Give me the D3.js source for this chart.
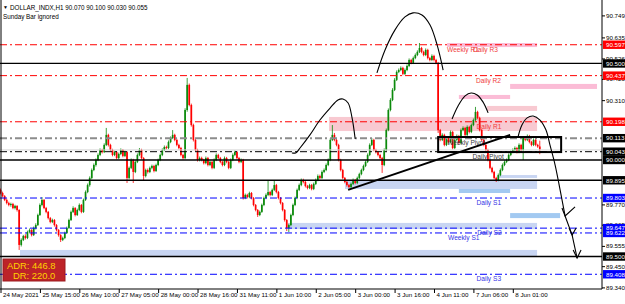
<!DOCTYPE html>
<html lang="en">
<head>
<meta charset="UTF-8">
<title>DOLLAR_INDX,H1</title>
<style>
  body { margin: 0; background: #fff; }
  svg { display: block; font-family: "Liberation Sans", Arial, sans-serif; }
</style>
</head>
<body>
<script src="https://d3js.org/d3.v7.min.js"></script>
<script>
// H1 candles (one per hour)
var opens = [89.845,89.829,89.813,89.793,89.777,89.767,89.772,89.751,89.762,89.741,
89.560,89.586,89.606,89.596,89.627,89.637,89.611,89.648,89.663,89.715,
89.767,89.793,89.751,89.731,89.699,89.679,89.689,89.663,89.637,89.611,
89.586,89.596,89.622,89.648,89.689,89.731,89.751,89.715,89.741,89.767,
89.731,89.793,89.834,89.870,89.907,89.948,89.974,90.000,90.026,90.052,
90.041,90.078,90.130,90.078,90.052,90.026,90.041,90.010,90.031,90.052,
90.021,90.041,89.907,89.959,90.000,89.938,89.990,90.026,90.052,90.010,
89.917,89.948,89.938,89.959,89.969,89.943,89.974,90.000,90.026,90.052,
90.067,90.062,90.093,90.114,90.130,90.104,90.078,90.062,90.026,90.010,
90.259,90.389,90.285,90.181,90.104,90.052,90.000,90.010,90.000,89.984,
90.010,89.974,89.990,89.959,90.000,90.026,90.010,89.990,89.974,90.010,
89.990,89.959,90.000,90.026,90.041,90.010,89.990,90.000,89.803,89.819,
89.808,89.829,89.803,89.767,89.741,89.715,89.731,89.767,89.803,89.819,
89.834,89.819,89.845,89.870,89.834,89.803,89.777,89.741,89.689,89.648,
89.663,89.715,89.767,89.803,89.845,89.870,89.896,89.886,89.865,89.855,
89.870,89.850,89.876,89.896,89.917,89.907,89.938,89.948,89.974,90.000,
90.104,90.130,90.104,90.078,90.000,89.948,89.907,89.886,89.870,89.860,
89.876,89.896,89.881,89.907,89.927,89.948,89.969,89.990,90.026,90.078,
90.104,90.052,90.041,90.026,90.010,89.974,90.052,90.155,90.259,90.311,
90.363,90.415,90.456,90.466,90.477,90.446,90.466,90.487,90.518,90.503,
90.528,90.544,90.560,90.580,90.560,90.544,90.570,90.528,90.518,90.539,
90.518,90.503,90.155,90.104,90.130,90.078,90.114,90.093,90.145,90.062,
90.104,90.124,90.088,90.155,90.166,90.130,90.171,90.145,90.181,90.207,
90.249,90.218,90.155,90.104,90.078,90.052,90.000,89.959,89.938,89.907,
89.896,89.922,89.948,89.974,89.990,90.000,90.026,90.041,90.052,90.062,
90.041,90.078,90.052,90.114,90.104,90.124,90.093,90.078,90.104,90.078,
90.070];
var highs = [89.852,89.836,89.818,89.800,89.784,89.779,89.778,89.768,89.766,89.745,
89.594,89.612,89.615,89.634,89.645,89.642,89.655,89.672,89.722,89.775,
89.808,89.798,89.757,89.736,89.705,89.696,89.694,89.668,89.642,89.616,
89.603,89.629,89.655,89.696,89.738,89.760,89.756,89.748,89.775,89.772,
89.800,89.842,89.878,89.915,89.956,89.982,90.008,90.034,90.060,90.058,
90.086,90.166,90.136,90.084,90.058,90.048,90.046,90.038,90.060,90.057,
90.049,90.046,89.966,90.008,90.006,89.998,90.034,90.062,90.058,90.015,
89.955,89.956,89.966,89.976,89.975,89.981,90.007,90.033,90.060,90.075,
90.074,90.101,90.122,90.155,90.136,90.110,90.084,90.068,90.032,90.268,
90.425,90.396,90.292,90.188,90.110,90.058,90.018,90.017,90.006,90.018,
90.016,89.998,89.996,90.008,90.034,90.032,90.016,89.996,90.018,90.016,
89.996,90.008,90.034,90.049,90.047,90.016,90.008,90.006,89.826,89.825,
89.836,89.834,89.808,89.772,89.746,89.738,89.774,89.810,89.827,89.896,
89.840,89.852,89.896,89.876,89.840,89.808,89.782,89.746,89.694,89.670,
89.722,89.774,89.810,89.852,89.878,89.904,89.903,89.892,89.871,89.877,
89.876,89.883,89.904,89.925,89.924,89.946,89.956,89.982,90.008,90.112,
90.181,90.140,90.110,90.084,90.006,89.954,89.912,89.892,89.876,89.883,
89.904,89.902,89.914,89.934,89.955,89.976,89.998,90.034,90.086,90.114,
90.110,90.058,90.047,90.032,90.016,90.060,90.163,90.267,90.320,90.372,
90.424,90.464,90.474,90.485,90.483,90.474,90.495,90.526,90.524,90.536,
90.552,90.568,90.606,90.586,90.566,90.578,90.576,90.534,90.547,90.545,
90.524,90.508,90.161,90.138,90.136,90.122,90.120,90.153,90.151,90.112,
90.132,90.130,90.163,90.174,90.172,90.179,90.177,90.189,90.215,90.275,
90.255,90.224,90.161,90.110,90.084,90.058,90.006,89.965,89.944,89.913,
89.930,89.956,89.982,89.998,90.008,90.034,90.049,90.060,90.070,90.068,
90.086,90.084,90.122,90.121,90.132,90.130,90.099,90.112,90.110,90.084,
90.100];
var lows = [89.822,89.806,89.787,89.770,89.760,89.758,89.745,89.744,89.733,89.534,
89.552,89.580,89.588,89.590,89.620,89.604,89.606,89.640,89.658,89.710,
89.760,89.745,89.724,89.692,89.672,89.673,89.655,89.630,89.603,89.575,
89.580,89.590,89.617,89.643,89.684,89.725,89.708,89.710,89.735,89.724,
89.726,89.788,89.828,89.862,89.900,89.942,89.966,89.994,90.020,90.034,
90.036,90.072,90.070,90.045,90.019,90.020,90.003,90.004,90.025,90.014,
90.015,89.881,89.900,89.953,89.881,89.932,89.984,90.020,90.003,89.896,
89.910,89.930,89.932,89.952,89.936,89.938,89.968,89.994,90.020,90.046,
90.055,90.056,90.087,90.108,90.097,90.071,90.055,90.019,90.002,90.004,
90.250,90.278,90.173,90.096,90.044,89.992,89.993,89.993,89.977,89.978,
89.967,89.968,89.952,89.953,89.994,90.003,89.983,89.967,89.968,89.983,
89.952,89.953,89.994,90.020,90.003,89.983,89.984,89.795,89.797,89.801,
89.802,89.796,89.760,89.734,89.705,89.709,89.726,89.761,89.797,89.813,
89.812,89.813,89.839,89.827,89.796,89.770,89.734,89.681,89.632,89.627,
89.657,89.709,89.761,89.797,89.839,89.864,89.879,89.858,89.848,89.849,
89.843,89.844,89.870,89.890,89.900,89.901,89.932,89.942,89.968,89.994,
90.098,90.097,90.071,89.993,89.941,89.900,89.879,89.862,89.853,89.854,
89.870,89.874,89.875,89.901,89.921,89.942,89.963,89.984,90.020,90.072,
90.045,90.034,90.019,90.002,89.933,89.968,90.046,90.149,90.252,90.305,
90.357,90.409,90.450,90.460,90.439,90.440,90.460,90.481,90.496,90.497,
90.522,90.538,90.554,90.553,90.537,90.538,90.521,90.511,90.512,90.511,
90.496,90.140,90.097,90.098,90.071,90.072,90.086,90.087,90.055,90.056,
90.098,90.081,90.082,90.149,90.123,90.124,90.138,90.139,90.175,90.201,
90.211,90.148,90.097,90.071,90.045,89.993,89.952,89.931,89.900,89.886,
89.890,89.916,89.942,89.968,89.984,89.994,90.020,90.035,90.046,90.034,
90.035,90.045,90.000,90.097,90.098,90.086,90.071,90.072,90.071,90.063,
90.030];
var closes = [89.829,89.813,89.793,89.777,89.767,89.772,89.751,89.762,89.741,89.560,
89.586,89.606,89.596,89.627,89.637,89.611,89.648,89.663,89.715,89.767,
89.793,89.751,89.731,89.699,89.679,89.689,89.663,89.637,89.611,89.586,
89.596,89.622,89.648,89.689,89.731,89.751,89.715,89.741,89.767,89.731,
89.793,89.834,89.870,89.907,89.948,89.974,90.000,90.026,90.052,90.041,
90.078,90.130,90.078,90.052,90.026,90.041,90.010,90.031,90.052,90.021,
90.041,89.907,89.959,90.000,89.938,89.990,90.026,90.052,90.010,89.917,
89.948,89.938,89.959,89.969,89.943,89.974,90.000,90.026,90.052,90.067,
90.062,90.093,90.114,90.130,90.104,90.078,90.062,90.026,90.010,90.259,
90.389,90.285,90.181,90.104,90.052,90.000,90.010,90.000,89.984,90.010,
89.974,89.990,89.959,90.000,90.026,90.010,89.990,89.974,90.010,89.990,
89.959,90.000,90.026,90.041,90.010,89.990,90.000,89.803,89.819,89.808,
89.829,89.803,89.767,89.741,89.715,89.731,89.767,89.803,89.819,89.834,
89.819,89.845,89.870,89.834,89.803,89.777,89.741,89.689,89.648,89.663,
89.715,89.767,89.803,89.845,89.870,89.896,89.886,89.865,89.855,89.870,
89.850,89.876,89.896,89.917,89.907,89.938,89.948,89.974,90.000,90.104,
90.130,90.104,90.078,90.000,89.948,89.907,89.886,89.870,89.860,89.876,
89.896,89.881,89.907,89.927,89.948,89.969,89.990,90.026,90.078,90.104,
90.052,90.041,90.026,90.010,89.974,90.052,90.155,90.259,90.311,90.363,
90.415,90.456,90.466,90.477,90.446,90.466,90.487,90.518,90.503,90.528,
90.544,90.560,90.580,90.560,90.544,90.570,90.528,90.518,90.539,90.518,
90.503,90.155,90.104,90.130,90.078,90.114,90.093,90.145,90.062,90.104,
90.124,90.088,90.155,90.166,90.130,90.171,90.145,90.181,90.207,90.249,
90.218,90.155,90.104,90.078,90.052,90.000,89.959,89.938,89.907,89.896,
89.922,89.948,89.974,89.990,90.000,90.026,90.041,90.052,90.062,90.041,
90.078,90.052,90.114,90.104,90.124,90.093,90.078,90.104,90.078,90.070,
90.055];

// time axis: one label every 19 bars
var timeTicks = [0, 19, 38, 57, 76, 95, 114, 133, 152, 171, 190, 209, 228, 247];
var timeLabels = ["24 May 2021", "25 May 15:00", "26 May 10:00", "27 May 05:00", "28 May 00:00",
  "28 May 16:00", "31 May 11:00", "1 Jun 10:00", "2 Jun 05:00", "3 Jun 00:00", "3 Jun 16:00",
  "4 Jun 11:00", "7 Jun 06:00", "8 Jun 01:00"];
var priceTicks = [90.749, 90.635, 90.526, 90.420, 90.310, 89.770, 89.665, 89.555, 89.450, 89.340];

// horizontal levels
var levelPrices = [90.597, 90.500, 90.437, 90.198, 90.113, 90.052, 90.043, 90.000, 89.895, 89.803, 89.647, 89.622, 89.500, 89.408];
var levelKinds = ["r", "k", "r", "r", "gp", "lg", "dp", "k", "k", "b", "b", "b", "k", "b"];
var tagPrices = [90.597, 90.500, 90.437, 90.198, 90.113, 90.043, 90.000, 89.895, 89.803, 89.647, 89.622, 89.500, 89.408];
var tagKinds = ["r", "k", "r", "r", "k", "k", "k", "k", "b", "b", "b", "k", "b"];

// pivot names
var pivotNames = ["Weekly R1", "Daily R3", "Daily R2", "Daily R1", "Weekly Pivot", "Daily Pivot", "Daily S1", "Daily S2", "Weekly S1", "Daily S3"];
var pivotPrices = [90.597, 90.597, 90.437, 90.198, 90.113, 90.043, 89.803, 89.647, 89.622, 89.408];
var pivotBars = [215.3, 227.8, 229.3, 229.5, 215.3, 227.6, 229.5, 229.8, 215.8, 229.5];
var pivotKinds = ["r", "r", "r", "r", "p", "p", "b", "b", "b", "b"];

// zones [barFrom, barTo, priceTop, priceBottom]
var zoneBars = [[215.3, 258.7], [221, 245.7], [245.7, 287.6], [234.6, 258.7], [158.4, 258.7],
  [240, 258.7], [166.1, 258.7], [221, 245.7], [245.7, 269.8], [138.6, 258.7], [9.4, 258.7]];
var zonePrices = [[90.606, 90.585], [90.337, 90.316], [90.394, 90.368], [90.280, 90.254], [90.223, 90.150],
  [89.922, 89.907], [89.896, 89.850], [89.850, 89.829], [89.725, 89.699], [89.674, 89.642], [89.534, 89.503]];
var zoneKinds = ["pk", "pk", "pk", "lp", "lp", "lb", "lb", "mb", "mb", "lb", "lb"];

// hand drawn marks [bar, price]
var arcTop = [[181.5, 90.451], [185.4, 90.570], [190.2, 90.674], [195, 90.741], [198.9, 90.762], [203.2, 90.751], [207.1, 90.699], [210.5, 90.596], [213.4, 90.466]];
var arcMid = [[140.5, 90.036], [142.5, 90.038], [144.4, 90.062], [149.2, 90.130], [154, 90.207], [158.9, 90.269], [162.7, 90.311], [165.1, 90.316], [167.6, 90.295], [169.5, 90.218], [171, 90.109]];
var arcSmall = [[217.7, 90.212], [220.6, 90.280], [224, 90.332], [226.9, 90.347], [229.8, 90.337], [232.6, 90.301], [235.1, 90.244]];
var arcRight = [[249.5, 90.119], [251.4, 90.181], [253.9, 90.218], [256.8, 90.228], [260.1, 90.207], [263, 90.155], [264.9, 90.078], [267.4, 89.974], [269.8, 89.845], [272.2, 89.710]];
var arrowPath = [[272.2, 89.710], [275.6, 89.611], [278, 89.492]];
var arrowHeads = [
  [[270.7, 89.751], [272.2, 89.710], [277, 89.757]],
  [[274.1, 89.648], [275.6, 89.611], [277.5, 89.648]],
  [[276.1, 89.534], [278, 89.492], [279.9, 89.534]]];
var trendLine = [[167.6, 89.845], [245.7, 90.130]];
var pivotBox = [[211, 90.119], [270.3, 90.041]];

var adrNames = ["ADR: ", "DR: "];
var adrValues = [446.8, 220.0];

var W = 625, H = 304, plotR = 602, plotB = 289;
var svg = d3.select('body').append('svg').attr('width', W).attr('height', H);

var x = d3.scaleLinear().domain([0, 290]).range([0.5, plotR]);
var y = d3.scaleLinear().domain([89.340, 90.749]).range([287.4, 15.4]);

var zoneColor = { pk: "#fbbcd6", lp: "#f8c9d1", lb: "#c8d5f2", mb: "#a2c9f1" };
var lineStyle = {
  r: { c: "#ff0000", w: 1, d: "7,3,2,3" },
  b: { c: "#0000ff", w: 1, d: "7,3,2,3" },
  k: { c: "#000000", w: 1.3, d: null },
  gp: { c: "#8c8c8c", w: 2, d: "7,3,2,3" },
  dp: { c: "#000000", w: 1, d: "7,3,2,3" },
  lg: { c: "#d4d4d4", w: 1, d: null }
};
var tagColor = { r: "#ff0000", k: "#000000", b: "#0000ff" };
var textColor = { r: "#f03c3c", p: "#3a3a3a", b: "#3434e6" };
var up = "#0b8a0b", dn = "#ff0000";

// zones
svg.append('g').selectAll('rect').data(zoneKinds).join('rect')
  .attr('x', function (d, i) { return x(zoneBars[i][0]); })
  .attr('width', function (d, i) { return x(zoneBars[i][1]) - x(zoneBars[i][0]); })
  .attr('y', function (d, i) { return y(zonePrices[i][0]); })
  .attr('height', function (d, i) { return y(zonePrices[i][1]) - y(zonePrices[i][0]); })
  .attr('fill', function (d) { return zoneColor[d]; });

// candles
var idx = d3.range(closes.length);
var gC = svg.append('g');
function col(i) { return closes[i] >= opens[i] ? up : dn; }
gC.selectAll('line').data(idx).join('line')
  .attr('x1', function (i) { return x(i); }).attr('x2', function (i) { return x(i); })
  .attr('y1', function (i) { return y(highs[i]); }).attr('y2', function (i) { return y(lows[i]); })
  .attr('stroke', col).attr('stroke-width', 0.8);
gC.selectAll('rect').data(idx).join('rect')
  .attr('x', function (i) { return x(i) - 0.85; }).attr('width', 1.7)
  .attr('y', function (i) { return y(Math.max(opens[i], closes[i])); })
  .attr('height', function (i) { return Math.max(0.8, Math.abs(y(opens[i]) - y(closes[i]))); })
  .attr('fill', col);

// levels
svg.append('g').selectAll('line').data(levelPrices).join('line')
  .attr('x1', 0).attr('x2', plotR)
  .attr('y1', function (d) { return y(d); }).attr('y2', function (d) { return y(d); })
  .attr('stroke', function (d, i) { return lineStyle[levelKinds[i]].c; })
  .attr('stroke-width', function (d, i) { return lineStyle[levelKinds[i]].w; })
  .attr('stroke-dasharray', function (d, i) { return lineStyle[levelKinds[i]].d; });

// pivot names
svg.append('g').selectAll('text').data(pivotNames).join('text')
  .attr('x', function (d, i) { return x(pivotBars[i]); })
  .attr('y', function (d, i) { return y(pivotPrices[i]) + 7.2; })
  .attr('font-size', 6.6)
  .attr('fill', function (d, i) { return textColor[pivotKinds[i]]; })
  .text(function (d) { return d; });

// hand drawn marks
var line = d3.line().x(function (d) { return x(d[0]); }).y(function (d) { return y(d[1]); });
var curve = d3.line().x(function (d) { return x(d[0]); }).y(function (d) { return y(d[1]); }).curve(d3.curveCatmullRom);
var gM = svg.append('g').attr('fill', 'none').attr('stroke', '#000');
[arcTop, arcMid, arcSmall, arcRight].forEach(function (a) {
  gM.append('path').attr('d', curve(a)).attr('stroke-width', 1.1);
});
gM.append('path').attr('d', line(arrowPath)).attr('stroke-width', 1.1);
arrowHeads.forEach(function (a) { gM.append('path').attr('d', line(a)).attr('stroke-width', 1.1); });
gM.append('path').attr('d', line(trendLine)).attr('stroke-width', 2);
gM.append('rect')
  .attr('x', x(pivotBox[0][0])).attr('y', y(pivotBox[0][1]))
  .attr('width', x(pivotBox[1][0]) - x(pivotBox[0][0]))
  .attr('height', y(pivotBox[1][1]) - y(pivotBox[0][1]))
  .attr('stroke-width', 2);

// ADR box
svg.append('rect').attr('x', 3).attr('y', 259).attr('width', 62).attr('height', 22)
  .attr('fill', '#bd2328').attr('stroke', '#9b1a1e');
svg.append('g').selectAll('text').data(adrValues).join('text')
  .attr('x', function (d, i) { return i === 0 ? 7 : 13; })
  .attr('y', function (d, i) { return 269 + i * 10; })
  .attr('font-size', 9.4).attr('fill', '#ffd200')
  .text(function (d, i) { return adrNames[i] + d.toFixed(1); });

// frame
svg.append('line').attr('x1', 1).attr('x2', 1).attr('y1', 0).attr('y2', plotB).attr('stroke', '#000');
svg.append('line').attr('x1', 0).attr('x2', plotR).attr('y1', plotB).attr('y2', plotB).attr('stroke', '#000');
svg.append('line').attr('x1', plotR).attr('x2', plotR).attr('y1', 0).attr('y2', plotB).attr('stroke', '#000');

// axes
var gy = svg.append('g').attr('transform', 'translate(' + plotR + ',0)')
  .call(d3.axisRight(y).tickValues(priceTicks).tickSize(3).tickFormat(d3.format('.3f')));
gy.select('.domain').remove();
gy.attr('font-family', null).attr('font-size', 6.2);
gy.selectAll('text').attr('x', 4);

var gx = svg.append('g').attr('transform', 'translate(0,' + plotB + ')')
  .call(d3.axisBottom(x).tickValues(timeTicks).tickSize(4).tickFormat(function (d, i) { return timeLabels[i]; }));
gx.select('.domain').remove();
gx.attr('font-family', null).attr('font-size', 6.2);
gx.selectAll('text').attr('text-anchor', 'start').attr('x', 2).attr('y', 4);

// price tags
var gT = svg.append('g');
gT.selectAll('rect').data(tagPrices).join('rect')
  .attr('x', plotR + 1).attr('width', 22)
  .attr('y', function (d) { return y(d) - 4.2; }).attr('height', 8.4)
  .attr('fill', function (d, i) { return tagColor[tagKinds[i]]; });
gT.selectAll('text').data(tagPrices).join('text')
  .attr('x', plotR + 4).attr('y', function (d) { return y(d) + 2.3; })
  .attr('font-size', 6.2).attr('fill', '#fff')
  .text(function (d) { return d.toFixed(3); });

// header
svg.append('text').attr('x', 3).attr('y', 9).attr('font-size', 5).text('\u25BC');
svg.append('text').attr('x', 10).attr('y', 9.5).attr('font-size', 6.3)
  .text('DOLLAR_INDX,H1  ' + [opens[260], highs[260], lows[260], closes[260]].map(function (v) { return v.toFixed(3); }).join(' '));
svg.append('text').attr('x', 3).attr('y', 19).attr('font-size', 6.3).text('Sunday Bar ignored');
</script>
</body>
</html>
